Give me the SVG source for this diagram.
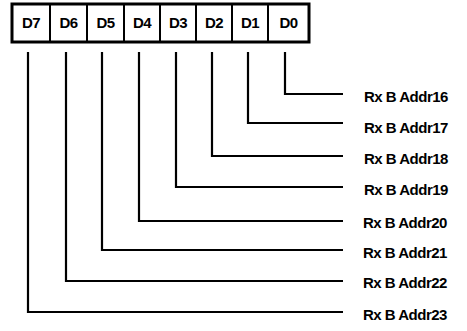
<svg xmlns="http://www.w3.org/2000/svg" width="467" height="331" viewBox="0 0 467 331">
<style>
.bit{fill:#fff;stroke:#000;stroke-width:2}
.outer{fill:none;stroke:#000;stroke-width:3}
.bl{font-family:"Liberation Sans",Arial,sans-serif;font-weight:bold;font-size:15px;text-anchor:middle;fill:#000;letter-spacing:-0.5px}
.lbl{font-family:"Liberation Sans",Arial,sans-serif;font-weight:bold;font-size:15px;fill:#000;letter-spacing:-0.5px}
.wire{fill:none;stroke:#000;stroke-width:2.2}
</style>
<rect width="467" height="331" fill="#fff"/>
<g id="register">
<g id="D7"><rect class="bit" x="12" y="4" width="38" height="38"/><text class="bl" x="31" y="28">D7</text></g>
<g id="D6"><rect class="bit" x="50" y="4" width="37" height="38"/><text class="bl" x="68.5" y="28">D6</text></g>
<g id="D5"><rect class="bit" x="87" y="4" width="37" height="38"/><text class="bl" x="105.5" y="28">D5</text></g>
<g id="D4"><rect class="bit" x="124" y="4" width="36" height="38"/><text class="bl" x="142" y="28">D4</text></g>
<g id="D3"><rect class="bit" x="160" y="4" width="36" height="38"/><text class="bl" x="178" y="28">D3</text></g>
<g id="D2"><rect class="bit" x="196" y="4" width="36" height="38"/><text class="bl" x="214" y="28">D2</text></g>
<g id="D1"><rect class="bit" x="232" y="4" width="36" height="38"/><text class="bl" x="250" y="28">D1</text></g>
<g id="D0"><rect class="bit" x="268" y="4" width="41" height="38"/><text class="bl" x="288.5" y="28">D0</text></g>
<rect class="outer" x="12" y="4" width="297" height="38"/>
</g>
<g id="connectors">
<polyline class="wire" points="285,52 285,94 343,94"/>
<polyline class="wire" points="248,52 248,123 343,123"/>
<polyline class="wire" points="212,52 212,156 343,156"/>
<polyline class="wire" points="176,52 176,187 343,187"/>
<polyline class="wire" points="139,52 139,221 343,221"/>
<polyline class="wire" points="102,52 102,250 343,250"/>
<polyline class="wire" points="66,52 66,281 343,281"/>
<polyline class="wire" points="28,52 28,312 343,312"/>
</g>
<g id="labels">
<g id="Addr16"><text class="lbl" x="364" y="102">Rx B Addr16</text></g>
<g id="Addr17"><text class="lbl" x="364" y="133">Rx B Addr17</text></g>
<g id="Addr18"><text class="lbl" x="364" y="164">Rx B Addr18</text></g>
<g id="Addr19"><text class="lbl" x="364" y="195">Rx B Addr19</text></g>
<g id="Addr20"><text class="lbl" x="363" y="228">Rx B Addr20</text></g>
<g id="Addr21"><text class="lbl" x="363" y="258">Rx B Addr21</text></g>
<g id="Addr22"><text class="lbl" x="363" y="288">Rx B Addr22</text></g>
<g id="Addr23"><text class="lbl" x="363" y="320">Rx B Addr23</text></g>
</g>
</svg>
